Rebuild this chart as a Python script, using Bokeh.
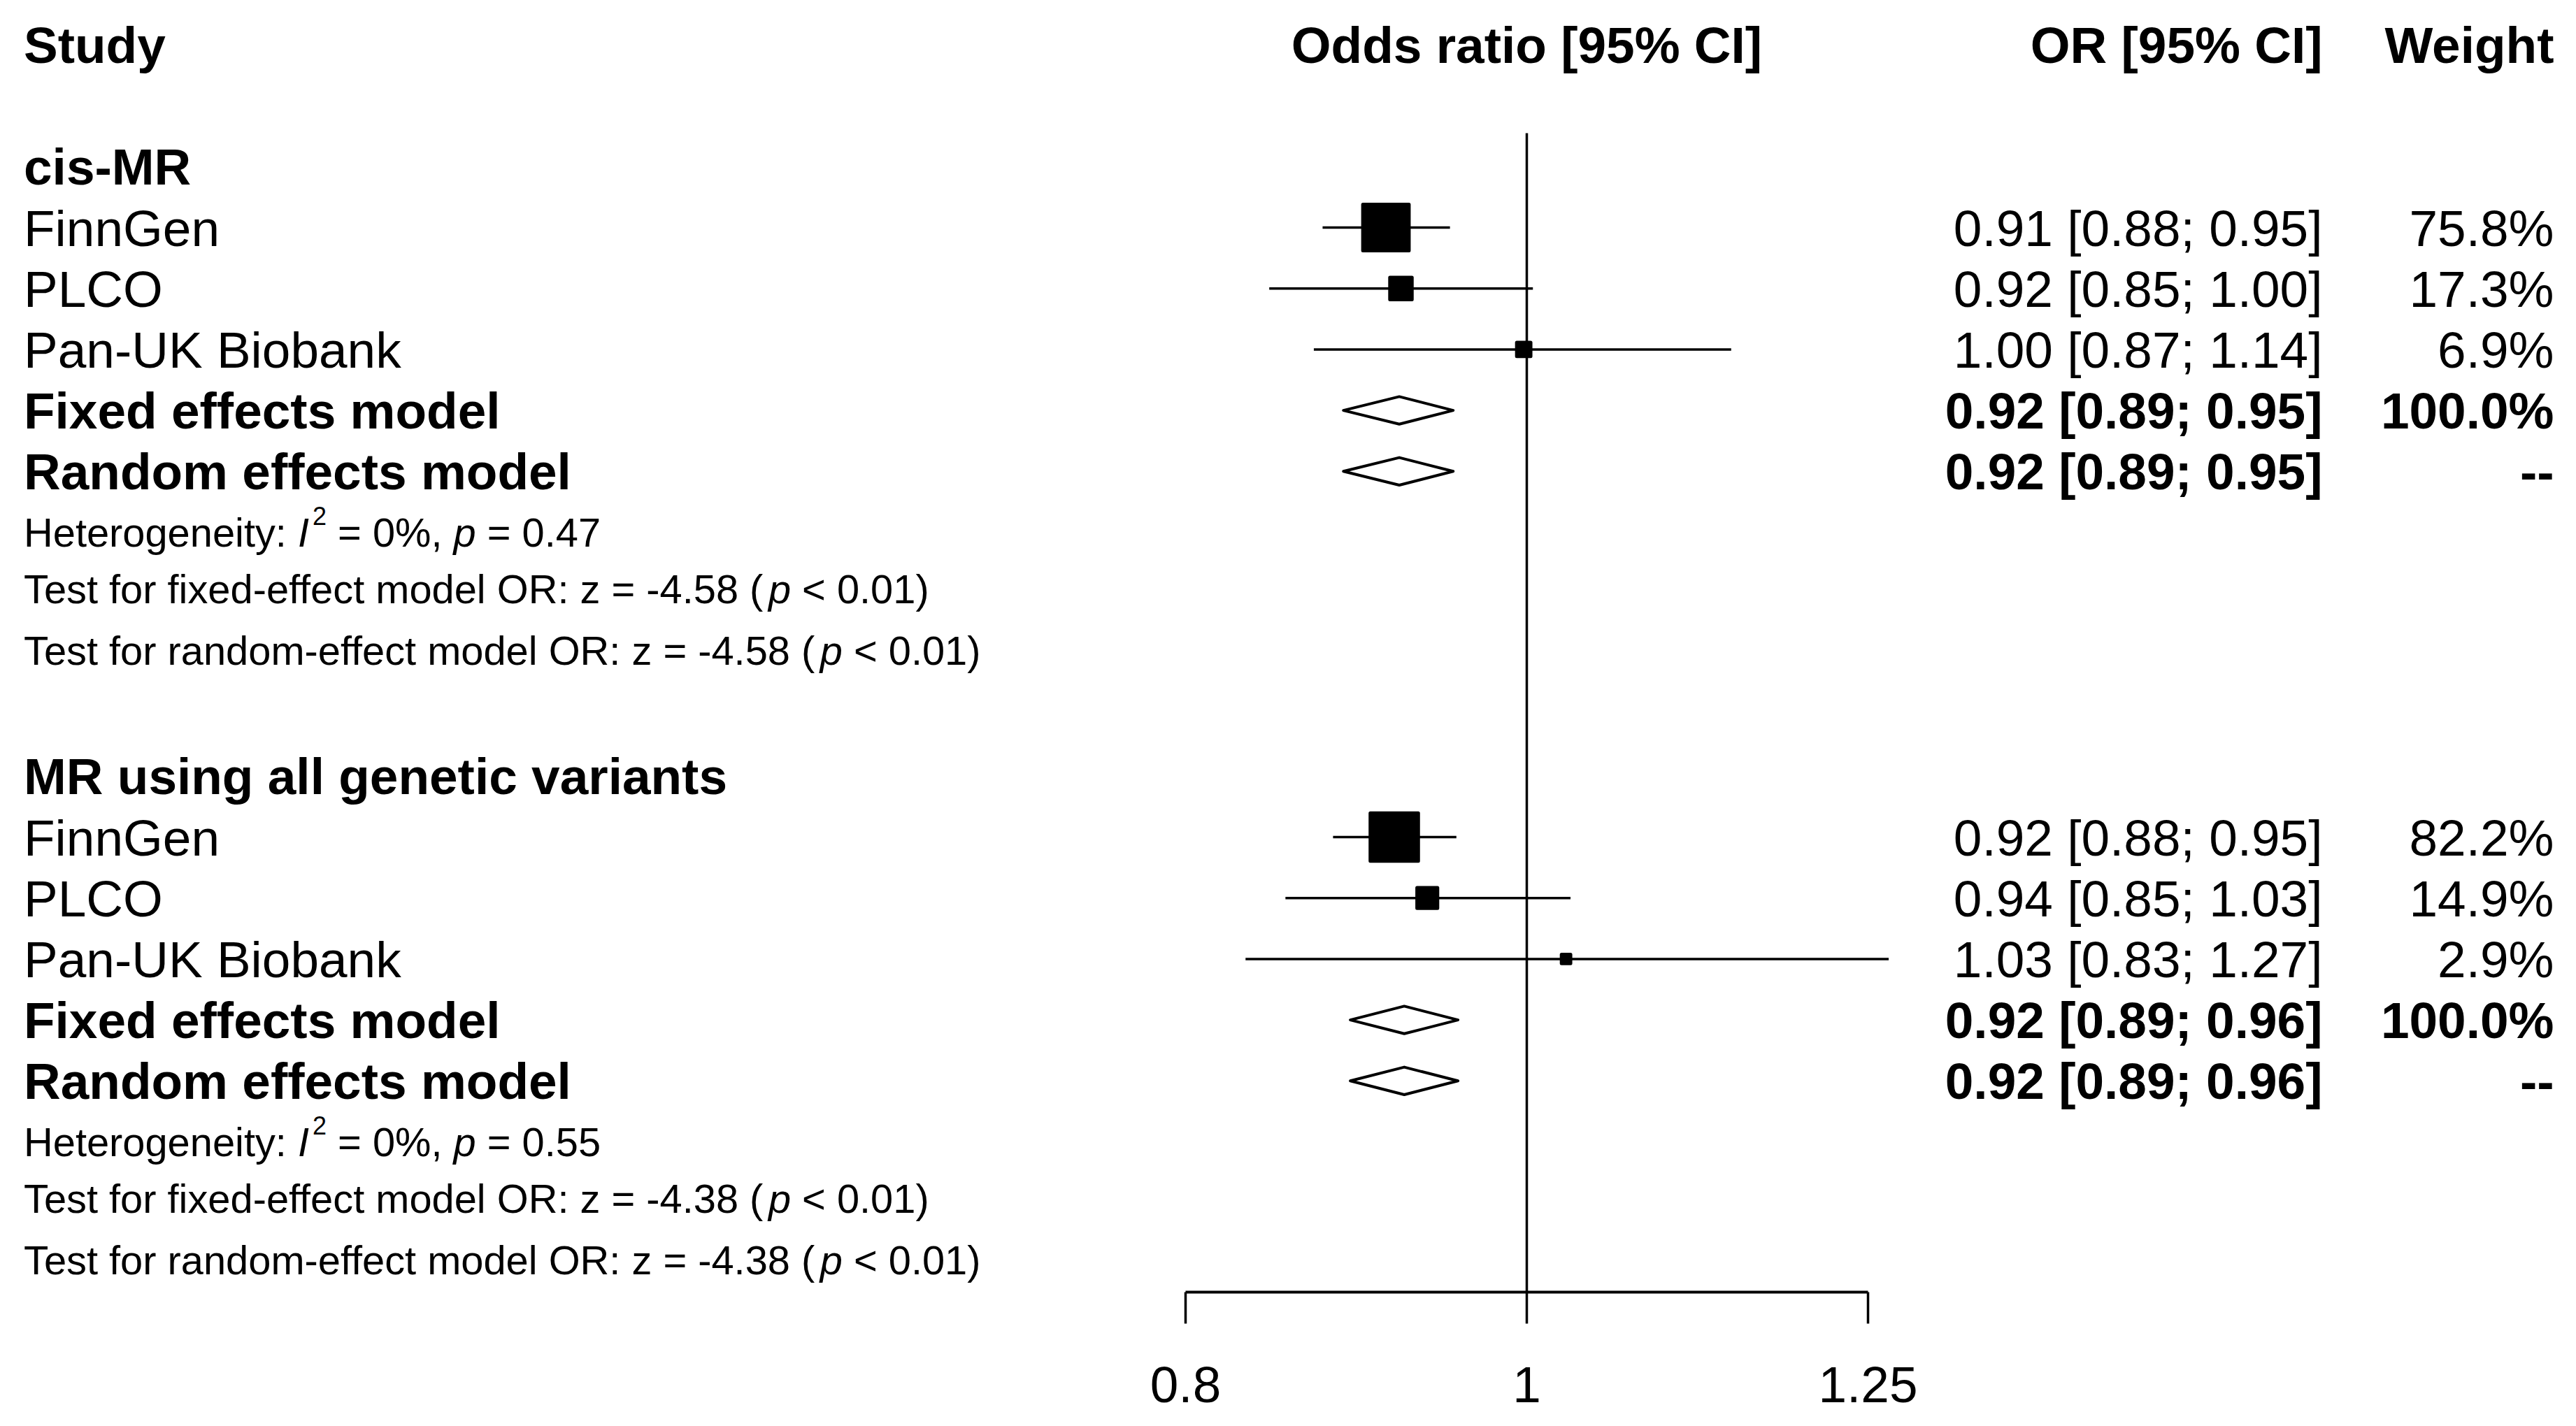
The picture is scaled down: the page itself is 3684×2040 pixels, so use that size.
import math
from bokeh.plotting import figure
from bokeh.models import (Range1d, FixedTicker, CustomJSTickFormatter, ColumnDataSource,
                          LabelSet)
from bokeh.core.properties import value
from bokeh.embed import file_html
from bokeh.resources import INLINE

# ---------------- data ----------------
group_titles = ["cis-MR", "MR using all genetic variants"]
studies = ["FinnGen", "PLCO", "Pan-UK Biobank"]

or_g1 = [0.912, 0.921, 0.998]
lo_g1 = [0.875, 0.845, 0.870]
hi_g1 = [0.951, 1.004, 1.143]
w_g1 = [75.8, 17.3, 6.9]
pooled_g1 = [0.920, 0.887, 0.953]          # est, lower, upper (fixed = random)

or_g2 = [0.917, 0.937, 1.026]
lo_g2 = [0.881, 0.854, 0.832]
hi_g2 = [0.955, 1.029, 1.267]
w_g2 = [82.2, 14.9, 2.9]
pooled_g2 = [0.923, 0.891, 0.956]

ci_text_g1 = ["0.91 [0.88; 0.95]", "0.92 [0.85; 1.00]", "1.00 [0.87; 1.14]"]
ci_text_g2 = ["0.92 [0.88; 0.95]", "0.94 [0.85; 1.03]", "1.03 [0.83; 1.27]"]
pooled_text = ["0.92 [0.89; 0.95]", "0.92 [0.89; 0.96]"]
weight_text_g1 = ["75.8%", "17.3%", "6.9%"]
weight_text_g2 = ["82.2%", "14.9%", "2.9%"]

i2_vals = ["0%", "0%"]
het_p = ["0.47", "0.55"]
z_fixed = ["-4.58", "-4.38"]
z_random = ["-4.58", "-4.38"]
p_test = ["< 0.01", "< 0.01"]

ticks = [0.8, 1, 1.25]

# ---------------- layout constants ----------------
FONT = "Liberation Sans"
W_TOT, FRAME_H, BOTTOM = 3668, 1848, 184
ROW0, ROWH = 63.4, 87.2                     # screen y of row 0 centre, row height
X_ONE = 2183.0
PX_LN = 488.0 / math.log(1.25)
x_start = math.exp(-X_ONE / PX_LN)
x_end = math.exp((W_TOT - X_ONE) / PX_LN)
y_top = -ROW0 / ROWH
y_bot = (FRAME_H - ROW0) / ROWH

X_LEFT = 33.5
X_OR = 3321.0
X_W = 3652.0
BIG = 73.0
SMALL = 57.8
SUP = 36.0
NB = "\u00a0"

ARIAL = {' ': 278, NB: 278, '%': 889, '(': 333, ')': 333, ',': 278, '-': 333, '.': 278,
         ':': 278, ';': 278, '<': 584, '=': 584, '>': 584, '[': 278, ']': 278}
for ch in "0123456789":
    ARIAL[ch] = 556
ARIAL.update(dict(zip("ABCDEFGHIJKLMNOPQRSTUVWXYZ",
                      [667, 667, 722, 722, 667, 611, 778, 722, 278, 500, 667, 556, 833, 722,
                       778, 667, 778, 722, 667, 611, 722, 667, 944, 667, 667, 611])))
ARIAL.update(dict(zip("abcdefghijklmnopqrstuvwxyz",
                      [556, 556, 500, 556, 556, 278, 556, 556, 222, 222, 500, 222, 833, 556,
                       556, 556, 556, 333, 500, 278, 556, 500, 722, 500, 500, 500])))


def tw(s, size):
    return sum(ARIAL.get(c, 556) for c in s) / 1000.0 * size


def nb(s):
    # keep leading / trailing spaces visible in SVG text
    return s.replace(" ", NB)


def base(row, size):
    return row + 0.358 * size / ROWH


p = figure(frame_width=W_TOT, frame_height=FRAME_H, x_axis_type="log",
           x_range=Range1d(x_start, x_end), y_range=Range1d(y_bot, y_top),
           y_axis_location=None, toolbar_location=None, output_backend="svg",
           min_border_left=0, min_border_right=0, min_border_top=0, min_border_bottom=BOTTOM,
           background_fill_color="white", border_fill_color="white")
p.grid.visible = False
p.outline_line_color = None

ax = p.xaxis[0]
ax.ticker = FixedTicker(ticks=ticks)
ax.formatter = CustomJSTickFormatter(code="return String(tick);")
ax.bounds = (0.8, 1.25)
ax.axis_line_width = 4
ax.axis_line_color = "black"
ax.major_tick_line_width = 3.5
ax.major_tick_line_color = "black"
ax.major_tick_in = 0
ax.major_tick_out = 45
ax.minor_tick_line_color = None
ax.major_label_text_font = FONT
ax.major_label_text_font_size = "73px"
ax.major_label_text_color = "black"
ax.major_label_standoff = 62

# reference line
p.segment(x0=[1], y0=[1.452], x1=[1], y1=[y_bot + 1], line_color="black", line_width=3.5)

# text collections: key -> dict(x, y, text)
texts = {}


def add_text(key, x, row_base, t):
    d = texts.setdefault(key, {"x": [], "y": [], "text": []})
    d["x"].append(x)
    d["y"].append(row_base)
    d["text"].append(t)


add_text(("left", "bold", BIG), X_LEFT, base(0, BIG), "Study")
add_text(("or", "bold", BIG), X_OR, base(0, BIG), "OR [95% CI]")
add_text(("w", "bold", BIG), X_W, base(0, BIG), "Weight")

groups = [
    (2, or_g1, lo_g1, hi_g1, w_g1, pooled_g1, ci_text_g1, weight_text_g1),
    (12, or_g2, lo_g2, hi_g2, w_g2, pooled_g2, ci_text_g2, weight_text_g2),
]

for gi, (b, ors, los, his, ws, pooled, ci_t, w_t) in enumerate(groups):
    rows = [b + 1 + k for k in range(len(studies))]
    add_text(("left", "bold", BIG), X_LEFT, base(b, BIG), group_titles[gi])
    for k, r in enumerate(rows):
        add_text(("left", "normal", BIG), X_LEFT, base(r, BIG), studies[k])
        add_text(("or", "normal", BIG), X_OR, base(r, BIG), ci_t[k])
        add_text(("w", "normal", BIG), X_W, base(r, BIG), w_t[k])
    rf, rr = b + 4, b + 5
    add_text(("left", "bold", BIG), X_LEFT, base(rf, BIG), "Fixed effects model")
    add_text(("left", "bold", BIG), X_LEFT, base(rr, BIG), "Random effects model")
    add_text(("or", "bold", BIG), X_OR, base(rf, BIG), pooled_text[gi])
    add_text(("or", "bold", BIG), X_OR, base(rr, BIG), pooled_text[gi])
    add_text(("w", "bold", BIG), X_W, base(rf, BIG), "100.0%")
    add_text(("w", "bold", BIG), X_W, base(rr, BIG), "--")

    # CI lines and squares
    p.segment(x0=los, y0=rows, x1=his, y1=rows, line_color="black", line_width=3.5)
    p.scatter(x=ors, y=rows, size=[7.56 * math.sqrt(w) for w in ws], marker="square",
              fill_color="black", line_color="black", line_width=5, line_join="round")
    # diamonds
    est, lo, hi = pooled
    h = 0.226
    xs = [[lo, est, hi, est], [lo, est, hi, est]]
    ys = [[rf, rf - h, rf, rf + h], [rr, rr - h, rr, rr + h]]
    p.patches(xs=xs, ys=ys, fill_color="white", line_color="black", line_width=4,
              line_join="round")

    # heterogeneity line (rich text)
    rh = b + 6
    bl = base(rh, SMALL)
    x = X_LEFT
    s = "Heterogeneity: "
    add_text(("left", "normal", SMALL), x, bl, nb(s)); x += tw(s, SMALL)
    add_text(("left", "italic", SMALL), x, bl, "I"); x += tw("I", SMALL) + 5
    add_text(("left", "normal", SUP), x, bl - 31 / ROWH, "2"); x += tw("2", SUP)
    s = " = " + i2_vals[gi] + ", "
    add_text(("left", "normal", SMALL), x, bl, nb(s)); x += tw(s, SMALL)
    add_text(("left", "italic", SMALL), x, bl, "p"); x += tw("p", SMALL)
    add_text(("left", "normal", SMALL), x, bl, nb(" = " + het_p[gi]))

    for j, (label, zv) in enumerate([("fixed", z_fixed[gi]), ("random", z_random[gi])]):
        rt = b + 7 + j - 6.0 / ROWH
        bl = base(rt, SMALL)
        x = X_LEFT
        s = "Test for " + label + "-effect model OR: z = " + zv + " ("
        add_text(("left", "normal", SMALL), x, bl, nb(s)); x += tw(s, SMALL)
        add_text(("left", "italic", SMALL), x, bl, "p"); x += tw("p", SMALL)
        add_text(("left", "normal", SMALL), x, bl, nb(" " + p_test[gi] + ")"))

align = {"left": "left", "or": "right", "w": "right"}
for (col, style, size), d in texts.items():
    src = ColumnDataSource(d)
    ls = LabelSet(x="x", y="y", text="text", source=src, x_units="screen", y_units="data",
                  text_align=align[col], text_baseline="alphabetic",
                  text_font=value(FONT), text_font_size=value(f"{size}px"),
                  text_font_style=value(style), text_color="black")
    p.add_layout(ls)

# centred header above the forest (x = 1 in data units)
hdr = ColumnDataSource({"x": [1], "y": [base(0, BIG)], "text": ["Odds ratio [95% CI]"]})
p.add_layout(LabelSet(x="x", y="y", text="text", source=hdr, x_units="data", y_units="data",
                      text_align="center", text_baseline="alphabetic",
                      text_font=value(FONT), text_font_size=value(f"{BIG}px"),
                      text_font_style=value("bold"), text_color="black"))

open("out.html", "w").write(file_html(p, INLINE))
